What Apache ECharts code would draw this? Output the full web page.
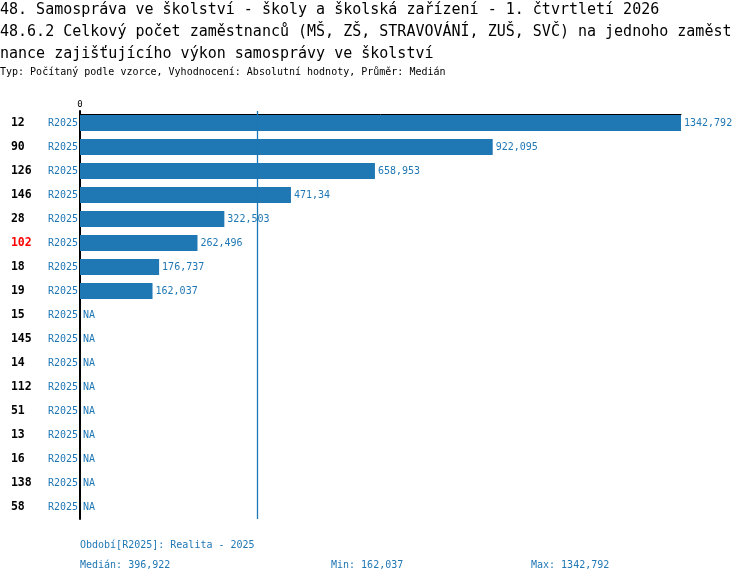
<!DOCTYPE html>
<html>
<head>
<meta charset="utf-8">
<script src="https://cdn.jsdelivr.net/npm/echarts@6/dist/echarts.min.js"></script>
<style>
  html, body { margin: 0; padding: 0; background: #fff; }
  #echarts { width: 750px; height: 582px; }
</style>
</head>
<body>
<div id="echarts"></div>
<script>
// kategorie (obce) a hodnoty v pořadí shora dolů
var categories = ['12', '90', '126', '146', '28', '102', '18', '19', '15', '145', '14', '112', '51', '13', '16', '138', '58'];
var values = [1342.792, 922.095, 658.953, 471.34, 322.503, 262.496, 176.737, 162.037,
    null, null, null, null, null, null, null, null, null];
var period = 'R2025';
var highlighted = '102';
var median = 396.922;
var medianText = '396,922';
var minText = '162,037';
var maxText = '1342,792';

var blue = '#1f77b4',
    font = 'DejaVu Sans Mono';

var myChart = echarts.init(document.getElementById('echarts')),
    option = {
        animation: false,
        textStyle: {fontFamily: font},
        title: [
            {
                text: '48. Samospráva ve školství - školy a školská zařízení - 1. čtvrtletí 2026\n' +
                    '48.6.2 Celkový počet zaměstnanců (MŠ, ZŠ, STRAVOVÁNÍ, ZUŠ, SVČ) na jednoho zaměst\n' +
                    'nance zajišťujícího výkon samosprávy ve školství',
                left: 0,
                top: -1,
                padding: 0,
                textStyle: {fontFamily: font, fontSize: 15, fontWeight: 'normal', color: '#000', lineHeight: 22}
            }, {
                text: 'Typ: Počítaný podle vzorce, Vyhodnocení: Absolutní hodnoty, Průměr: Medián',
                left: 0,
                top: 67,
                padding: 0,
                textStyle: {fontFamily: font, fontSize: 10, fontWeight: 'normal', color: '#000'}
            }, {
                text: 'Období[' + period + ']: Realita - 2025',
                left: 80,
                top: 540,
                padding: 0,
                textStyle: {fontFamily: font, fontSize: 10, fontWeight: 'normal', color: blue}
            }, {
                text: 'Medián: ' + medianText,
                left: 80,
                top: 560,
                padding: 0,
                textStyle: {fontFamily: font, fontSize: 10, fontWeight: 'normal', color: blue}
            }, {
                text: 'Min: ' + minText,
                left: 331,
                top: 560,
                padding: 0,
                textStyle: {fontFamily: font, fontSize: 10, fontWeight: 'normal', color: blue}
            }, {
                text: 'Max: ' + maxText,
                left: 531,
                top: 560,
                padding: 0,
                textStyle: {fontFamily: font, fontSize: 10, fontWeight: 'normal', color: blue}
            }
        ],
        grid: {
            left: 80,
            right: 69,
            top: 111,
            bottom: 63
        },
        xAxis: {
            type: 'value',
            position: 'top',
            min: 0,
            max: 1342.792,
            offset: -3,
            splitLine: {show: false},
            axisTick: {show: false},
            axisLine: {show: true, lineStyle: {color: '#000', width: 1}},
            axisLabel: {
                fontFamily: font,
                fontSize: 9,
                color: '#000',
                margin: 5,
                showMaxLabel: false,
                formatter: function (v) {
                    return v === 0 ? '0' : '';
                }
            }
        },
        yAxis: {
            type: 'category',
            inverse: true,
            data: categories,
            axisTick: {show: false},
            axisLine: {show: true, lineStyle: {color: '#000', width: 2}},
            axisLabel: {
                margin: 2,
                formatter: function (v) {
                    var style = v === highlighted ? 'h' : 'n';
                    return '{' + style + '|' + v + '}{r|' + period + '}';
                },
                rich: {
                    n: {fontFamily: font, fontSize: 11.5, fontWeight: 'bold', color: '#000', width: 37, align: 'left'},
                    h: {fontFamily: font, fontSize: 11.5, fontWeight: 'bold', color: '#ff0000', width: 37, align: 'left'},
                    r: {fontFamily: font, fontSize: 10, color: blue}
                }
            }
        },
        series: [
            {
                type: 'bar',
                barWidth: 16,
                itemStyle: {color: blue},
                label: {
                    show: true,
                    position: 'right',
                    distance: 3,
                    fontFamily: font,
                    fontSize: 10,
                    color: blue,
                    formatter: function (p) {
                        return values[p.dataIndex] == null ? 'NA' : String(values[p.dataIndex]).replace('.', ',');
                    }
                },
                data: values.map(function (v) {
                    return v == null ? 0 : v;
                }),
                markLine: {
                    silent: true,
                    symbol: 'none',
                    label: {show: false},
                    lineStyle: {color: blue, width: 1.3, type: 'solid', opacity: 1},
                    data: [{xAxis: median}]
                }
            }
        ]
    };

myChart.setOption(option);
</script>
</body>
</html>
